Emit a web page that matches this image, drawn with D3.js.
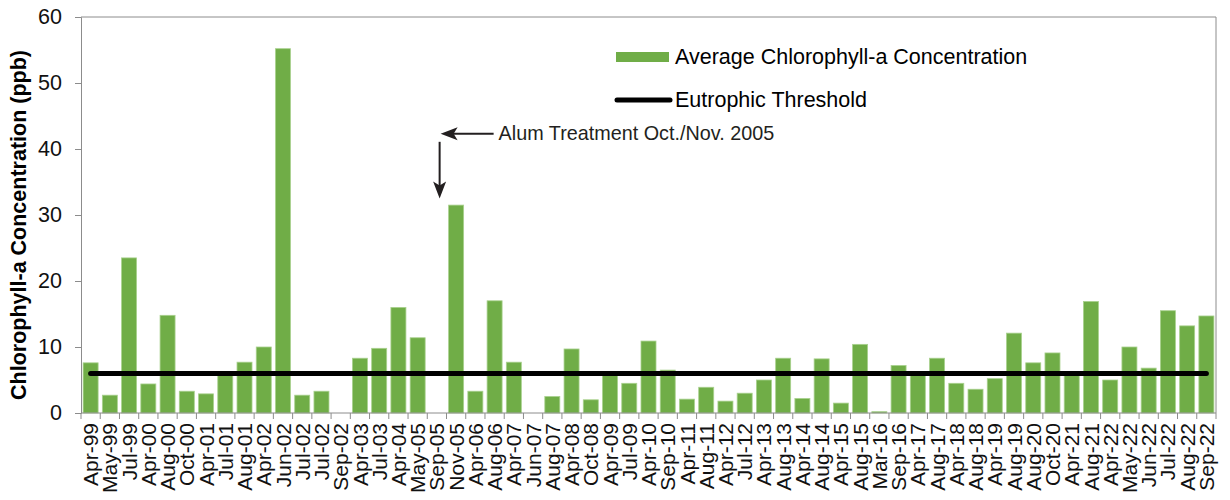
<!DOCTYPE html>
<html lang="en">
<head>
<meta charset="UTF-8">
<title>Average Chlorophyll-a Concentration</title>
<script src="https://cdn.jsdelivr.net/npm/d3@7/dist/d3.min.js"></script>
<style>
  * { margin: 0; padding: 0; }
  body { background: #fff; }
  svg { display: block; font-family: 'Liberation Sans', Arial, sans-serif; }
</style>
</head>
<body>
<svg width="1230" height="500"></svg>
<script>
// sampling events (two "Jul-02" samples in the source)
const months = ['Apr-99','May-99','Jul-99','Apr-00','Aug-00','Oct-00','Apr-01','Jul-01','Aug-01','Apr-02',
  'Jun-02','Jul-02','Jul-02','Sep-02','Apr-03','Jul-03','Apr-04','May-05','Sep-05','Nov-05',
  'Apr-06','Aug-06','Apr-07','Jun-07','Aug-07','Apr-08','Oct-08','Apr-09','Jul-09','Apr-10',
  'Sep-10','Apr-11','Aug-11','Apr-12','Jul-12','Apr-13','Aug-13','Apr-14','Aug-14','Apr-15',
  'Aug-15','Mar-16','Sep-16','Apr-17','Aug-17','Apr-18','Aug-18','Apr-19','Aug-19','Aug-20',
  'Oct-20','Apr-21','Aug-21','Apr-22','May-22','Jun-22','Jul-22','Aug-22','Sep-22'];

// average chlorophyll-a (ppb)
const chlorophyll = [7.6, 2.7, 23.5, 4.4, 14.8, 3.3, 2.9, 6.1, 7.7, 10.0,
  55.2, 2.7, 3.3, 0, 8.3, 9.8, 16.0, 11.4, 0, 31.5,
  3.3, 17.0, 7.7, 0, 2.5, 9.7, 2.0, 6.1, 4.5, 10.9,
  6.5, 2.1, 3.9, 1.8, 3.0, 5.0, 8.3, 2.2, 8.2, 1.5,
  10.4, 0.2, 7.2, 6.1, 8.3, 4.5, 3.6, 5.2, 12.1, 7.6,
  9.1, 6.1, 16.9, 5.0, 10.0, 6.8, 15.5, 13.2, 14.7];

const threshold = 6;
const yTicks = [0, 10, 20, 30, 40, 50, 60];
const legendLabels = ['Average Chlorophyll-a Concentration', 'Eutrophic Threshold'];
const note = 'Alum Treatment Oct./Nov. 2005';

const svg = d3.select('svg');
const margin = { top: 17, right: 14, bottom: 87, left: 81 };
const W = 1230, H = 500;
const green = '#70ad47';
const axisGray = '#8c8c8c';
const ink = '#231f20';

const x = d3.scaleBand()
  .domain(d3.range(months.length))
  .range([margin.left, W - margin.right])
  .paddingInner(0.22)
  .paddingOuter(0.11);

const y = d3.scaleLinear()
  .domain([0, 60])
  .range([H - margin.bottom, margin.top]);

const step = x.step();
const x0 = margin.left, x1 = W - margin.right;

// plot frame (top + right)
svg.append('path')
  .attr('d', `M${x0},${y(60)}H${x1}V${y(0)}`)
  .attr('fill', 'none')
  .attr('stroke', axisGray)
  .attr('stroke-width', 1);

// bars
svg.append('g')
  .selectAll('rect')
  .data(chlorophyll)
  .join('rect')
  .attr('x', (d, i) => x(i))
  .attr('y', d => y(d))
  .attr('width', x.bandwidth())
  .attr('height', d => y(0) - y(d))
  .attr('fill', green)
  .attr('stroke', d => d > 0 ? '#a9d18e' : 'none')
  .attr('stroke-width', 0.8);

// y axis
const yAxis = svg.append('g')
  .attr('transform', `translate(${x0},0)`)
  .call(d3.axisLeft(y).tickValues(yTicks).tickSize(6).tickPadding(13));
yAxis.select('.domain').attr('stroke', axisGray);
yAxis.selectAll('.tick line').attr('stroke', axisGray);
yAxis.selectAll('.tick text')
  .attr('font-size', 21.5)
  .attr('fill', '#111')
  .attr('font-family', "'Liberation Sans', Arial, sans-serif");

// x axis: labels from d3 axis, ticks at band boundaries
const xAxis = svg.append('g')
  .attr('transform', `translate(0,${y(0)})`)
  .call(d3.axisBottom(x).tickFormat(i => months[i]).tickSize(0).tickPadding(0));
xAxis.select('.domain').remove();
xAxis.selectAll('.tick text')
  .attr('font-size', 21)
  .attr('fill', '#111')
  .attr('font-family', "'Liberation Sans', Arial, sans-serif")
  .attr('text-anchor', 'end')
  .attr('transform', 'rotate(-90)')
  .attr('x', -10)
  .attr('y', 0)
  .attr('dy', '0.36em');

svg.append('line')
  .attr('x1', x0).attr('x2', x1)
  .attr('y1', y(0)).attr('y2', y(0))
  .attr('stroke', axisGray);

svg.append('g')
  .selectAll('line')
  .data(d3.range(months.length + 1))
  .join('line')
  .attr('x1', i => x0 + i * step)
  .attr('x2', i => x0 + i * step)
  .attr('y1', y(0))
  .attr('y2', y(0) + 6)
  .attr('stroke', axisGray);

// eutrophic threshold
svg.append('line')
  .attr('x1', x(0) + x.bandwidth() / 2)
  .attr('x2', x(months.length - 1) + x.bandwidth() / 2)
  .attr('y1', y(threshold))
  .attr('y2', y(threshold))
  .attr('stroke', '#000')
  .attr('stroke-width', 5)
  .attr('stroke-linecap', 'round');

// y title
svg.append('text')
  .attr('transform', `translate(26,${(y(0) + y(60)) / 2 + 10}) rotate(-90)`)
  .attr('text-anchor', 'middle')
  .attr('font-size', 21.5)
  .attr('font-weight', 'bold')
  .attr('fill', '#000')
  .text('Chlorophyll-a Concentration (ppb)');

// legend
const legend = svg.append('g').attr('transform', 'translate(616,0)');
legend.append('rect')
  .attr('x', 0).attr('y', 52).attr('width', 53).attr('height', 10)
  .attr('fill', green);
legend.append('line')
  .attr('x1', 1).attr('x2', 54).attr('y1', 100).attr('y2', 100)
  .attr('stroke', '#000').attr('stroke-width', 5).attr('stroke-linecap', 'round');
legend.selectAll('text.lg')
  .data(legendLabels)
  .join('text')
  .attr('class', 'lg')
  .attr('x', 59)
  .attr('y', (d, i) => 63.5 + i * 43)
  .attr('font-size', 21.5)
  .attr('fill', '#000')
  .text(d => d);

// alum treatment annotation
const arrowX = x(19) - 9;
const headY = y(42.3);
const tipY = y(32.5);

function arrowHead(tx, ty, dx, dy) {
  const len = 17, half = 6.5, notch = 4;
  const px = -dy, py = dx;
  const bx = tx - dx * len, by = ty - dy * len;
  const nx = tx - dx * (len - notch), ny = ty - dy * (len - notch);
  return `M${tx},${ty}L${bx + px * half},${by + py * half}L${nx},${ny}L${bx - px * half},${by - py * half}Z`;
}

svg.append('line')
  .attr('x1', arrowX + 54).attr('x2', arrowX + 8)
  .attr('y1', headY).attr('y2', headY)
  .attr('stroke', ink).attr('stroke-width', 2);
svg.append('path')
  .attr('d', arrowHead(arrowX + 1, headY, -1, 0))
  .attr('fill', ink);

svg.append('line')
  .attr('x1', arrowX).attr('x2', arrowX)
  .attr('y1', headY + 8).attr('y2', tipY - 8)
  .attr('stroke', ink).attr('stroke-width', 2);
svg.append('path')
  .attr('d', arrowHead(arrowX, tipY, 0, 1))
  .attr('fill', ink);

svg.append('text')
  .attr('x', arrowX + 59)
  .attr('y', headY + 6.5)
  .attr('font-size', 19.8)
  .attr('fill', ink)
  .text(note);
</script>
</body>
</html>
